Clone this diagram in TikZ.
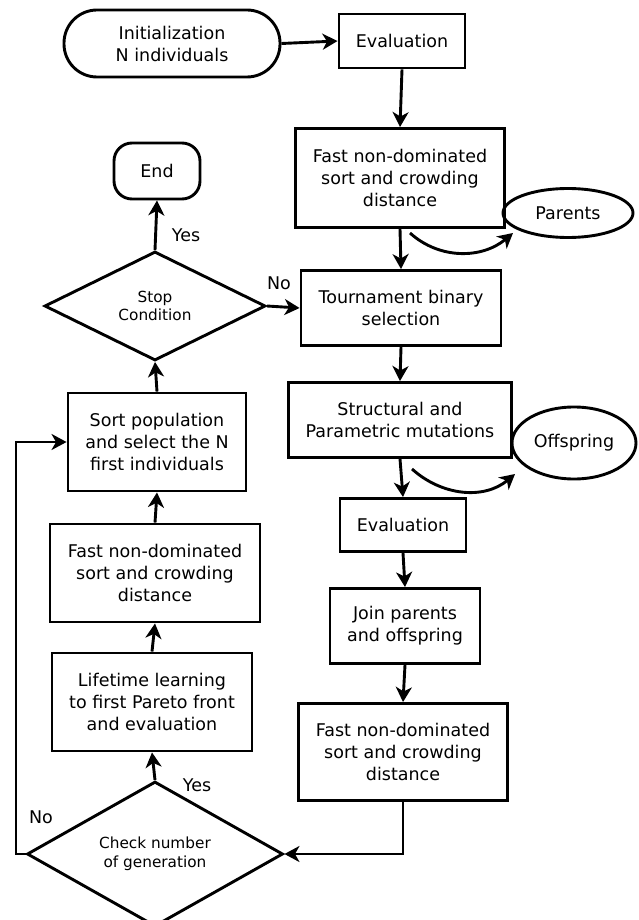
\documentclass[tikz,border=0pt]{standalone}
\usepackage{fontspec}
\setmainfont{DejaVu Sans}
\usetikzlibrary{shapes.geometric,arrows.meta}
\newcommand\mainfs{\fontsize{17.5}{22}\selectfont}
\newcommand\smallfs{\fontsize{15.3}{18.5}\selectfont}
\begin{document}
\begin{tikzpicture}[x=1pt,y=-1pt,
  box/.style={draw, line width=2.9pt, align=center, inner sep=0pt, font=\mainfs, rectangle},
  term/.style={box, rounded corners=#1},
  oval/.style={draw, line width=2.9pt, ellipse, inner sep=0pt, font=\mainfs},
  dec/.style={draw, line width=2.9pt, diamond, inner sep=0pt, align=center, font=\smallfs},
  conn/.style={line width=2.9pt, -{Stealth[length=15pt,width=16pt,inset=4.5pt]}},
  lbl/.style={font=\mainfs, inner sep=0pt}
]
\useasboundingbox (0,0) rectangle (639,920);
% nodes
\node[term=33pt, minimum width=216pt, minimum height=67pt] (init) at (172,43.5) {Initialization\\N individuals};
\node[box, minimum width=126pt, minimum height=54pt] (eval1) at (402,41) {Evaluation};
\node[box, minimum width=209pt, minimum height=99pt] (fast1) at (400,178) {Fast non-dominated\\sort and crowding\\distance};
\node[oval, minimum width=130pt, minimum height=49pt] (parents) at (568,213) {Parents};
\node[box, minimum width=200pt, minimum height=75pt] (tour) at (401,308) {Tournament binary\\selection};
\node[box, minimum width=223pt, minimum height=75pt] (struct) at (400,420) {Structural and\\Parametric mutations};
\node[oval, minimum width=124pt, minimum height=72pt] (offs) at (574,443) {Offspring};
\node[box, minimum width=126pt, minimum height=53pt] (eval2) at (403,525) {Evaluation};
\node[box, minimum width=150pt, minimum height=75pt] (join) at (405,626) {Join parents\\and offspring};
\node[box, minimum width=209pt, minimum height=97pt] (fast3) at (403,752) {Fast non-dominated\\sort and crowding\\distance};
\node[dec, minimum width=256pt, minimum height=128pt] (check) at (155,854) {Check number\\of generation};
\node[box, minimum width=200pt, minimum height=98pt] (life) at (152,702) {Lifetime learning\\to first Pareto front\\and evaluation};
\node[box, minimum width=210pt, minimum height=98pt] (fast2) at (155,573) {Fast non-dominated\\sort and crowding\\distance};
\node[box, minimum width=178pt, minimum height=98pt] (sort) at (157,442) {Sort population\\and select the N\\first individuals};
\node[dec, minimum width=221pt, minimum height=109pt] (stop) at (155,306) {Stop\\Condition};
\node[term=18pt, minimum width=86pt, minimum height=56pt] (end) at (157,171) {End};
% labels
\node[lbl] (yes1) at (186,235) {Yes};
\node[lbl] (no1) at (279,283) {No};
\node[lbl] (yes2) at (197,785) {Yes};
\node[lbl] (no2) at (41,817) {No};
% coordinates for curved arrows and loop
\coordinate (pa) at (410,233);
\coordinate (pb) at (513,233);
\coordinate (oa) at (412,469);
\coordinate (ob) at (515,474);
\coordinate (loop) at (16,854);
% connectors
\draw[conn] (init.east) -- (eval1.west);
\draw[conn] (eval1.south) -- (fast1.north);
\draw[conn] (fast1.south) -- (tour.north);
\draw[conn] (stop.east) -- (tour.west);
\draw[conn] (stop.north) -- (end.south);
\draw[conn] (tour.south) -- (struct.north);
\draw[conn] (struct.south) -- (eval2.north);
\draw[conn] (eval2.south) -- (join.north);
\draw[conn] (join.south) -- (fast3.north);
\draw[conn] (fast3.south) |- (check.east);
\draw[conn] (check.north) -- (life.south);
\draw[conn] (life.north) -- (fast2.south);
\draw[conn] (fast2.north) -- (sort.south);
\draw[conn] (sort.north) -- (stop.south);
\draw[conn] (check.west) -- (loop) |- (sort.west);
\draw[conn] (pa) to[out=-42,in=-140] (pb);
\draw[conn] (oa) to[out=-42,in=-140] (ob);
\end{tikzpicture}
\end{document}
